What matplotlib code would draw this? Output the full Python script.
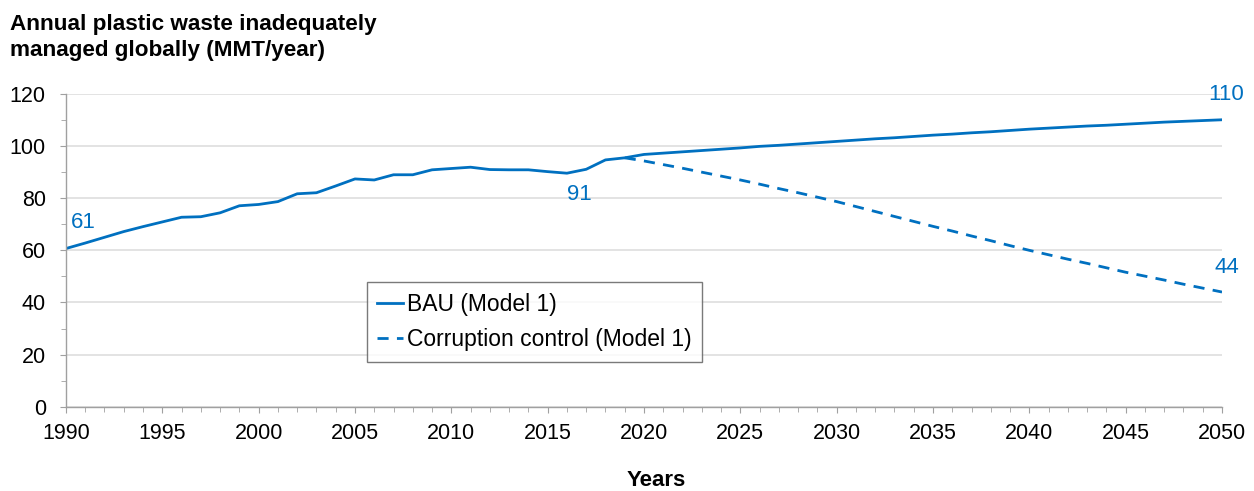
import matplotlib.pyplot as plt
from matplotlib.ticker import MultipleLocator

# Data
bau_years = list(range(1990, 2051))
bau_values = [60.7, 62.8, 65.0, 67.2, 69.1, 70.9, 72.7, 72.9, 74.4, 77.1,
              77.6, 78.7, 81.7, 82.1, 84.7, 87.4, 87.0, 89.0, 89.0, 90.9,
              91.4, 91.9, 91.0, 90.9, 90.9, 90.2, 89.6, 91.1, 94.7, 95.5,
              96.8, 97.3, 97.8, 98.3, 98.8, 99.3, 99.9, 100.3, 100.8, 101.3,
              101.8, 102.3, 102.8, 103.2, 103.7, 104.2, 104.6, 105.1, 105.5, 106.0,
              106.5, 106.9, 107.3, 107.7, 108.0, 108.4, 108.8, 109.2, 109.5, 109.8,
              110.1]

cc_years = list(range(2019, 2051))
cc_values = [95.5, 94.3, 92.9, 91.5, 90.0, 88.5, 87.0, 85.4, 83.7, 82.1,
             80.4, 78.7, 76.8, 74.9, 73.0, 71.1, 69.2, 67.4, 65.5, 63.7,
             61.8, 60.0, 58.3, 56.6, 55.0, 53.3, 51.6, 50.1, 48.6, 47.0,
             45.5, 44.0]

labels = ['BAU (Model 1)', 'Corruption control (Model 1)']
callout_years = [1990, 2017, 2050, 2050]
callout_values = [61, 91, 110, 44]

blue = '#0070C0'
axis_grey = '#a0a0a0'

plt.rcParams['font.family'] = ['Liberation Sans', 'DejaVu Sans']

fig = plt.figure(figsize=(12.54, 4.91), dpi=100)
ax = fig.add_axes([0.0526, 0.1717, 0.9219, 0.6369])

ax.plot(bau_years, bau_values, color=blue, linewidth=2.0, label=labels[0])
ax.plot(cc_years, cc_values, color=blue, linewidth=2.0, linestyle=(0, (4, 3)), label=labels[1])

# Value callouts, nudged off the line like in the original
offsets = [(0.9, 9.6), (-0.35, -9.5), (0.2, 9.8), (0.25, 9.6)]
for yr, val, (dx, dy) in zip(callout_years, callout_values, offsets):
    ax.text(yr + dx, val + dy, str(val), color=blue, fontsize=16, va='center', ha='center')

ax.set_xlim(1990, 2050)
ax.set_ylim(0, 120)
ax.xaxis.set_major_locator(MultipleLocator(5))
ax.xaxis.set_minor_locator(MultipleLocator(1))
ax.yaxis.set_major_locator(MultipleLocator(20))
ax.yaxis.set_minor_locator(MultipleLocator(10))

ax.grid(axis='y', which='major', color='#e0e0e0', linewidth=1.3)
ax.set_axisbelow(True)

for side in ['top', 'right']:
    ax.spines[side].set_visible(False)
for side in ['left', 'bottom']:
    ax.spines[side].set_color(axis_grey)
    ax.spines[side].set_linewidth(1.0)

ax.tick_params(axis='both', which='major', direction='out', length=4.5, color=axis_grey, labelsize=15.5)
ax.tick_params(axis='both', which='minor', direction='out', length=3.5, color=axis_grey)
ax.tick_params(axis='x', which='major', pad=7)
ax.tick_params(axis='y', which='major', pad=10)

fig.text(656 / 1254, 1 - 480 / 491, 'Years', fontsize=16, fontweight='bold', va='center', ha='center')

fig.text(0.008, 0.972, 'Annual plastic waste inadequately\nmanaged globally (MMT/year)',
         fontsize=16.2, fontweight='bold', va='top', ha='left', linespacing=1.32)

leg = ax.legend(loc='lower left', bbox_to_anchor=(0.2604, 0.144), borderaxespad=0,
                fontsize=16.5, frameon=True, fancybox=False, handlelength=1.1,
                handletextpad=0.2, borderpad=0.45, labelspacing=0.55)
leg.get_frame().set_edgecolor('#595959')
leg.get_frame().set_linewidth(1.0)

plt.savefig('out.png', dpi=100)
